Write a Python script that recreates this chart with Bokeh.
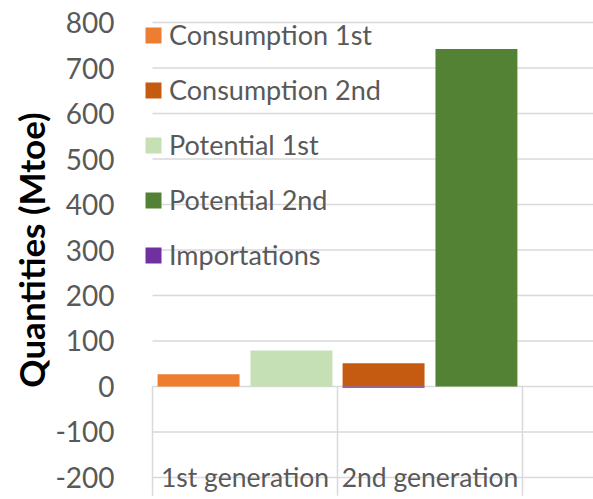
from bokeh.plotting import figure
from bokeh.models import Range1d, FixedTicker, Legend, LegendItem
from bokeh.core.properties import value
from bokeh.embed import file_html
from bokeh.resources import INLINE

categories = ["1st generation", "2nd generation"]
series = ["Consumption 1st", "Consumption 2nd", "Potential 1st", "Potential 2nd", "Importations"]
colors = ["#ED7D31", "#C55A11", "#C5E0B4", "#548235", "#7030A0"]
# values per category (1st generation, 2nd generation)
consumption_1st = [27, 0]
consumption_2nd = [0, 51]
potential_1st = [79, 0]
potential_2nd = [0, 742]
importations = [0, -3]
y_ticks = [-200, -100, 0, 100, 200, 300, 400, 500, 600, 700, 800]

FONT = "Lato"
GRID = "#D9D9D9"
TXT = "#595959"

X0 = -12 / 185
X1 = 441 / 185

p = figure(width=593, height=499, output_backend="svg", toolbar_location=None,
           x_axis_type=None, x_range=Range1d(X0, X1), y_range=Range1d(-248.4, 848.4),
           min_border_left=140, min_border_right=0, min_border_top=0, min_border_bottom=0)
p.outline_line_color = None
p.background_fill_color = "white"
p.ygrid.visible = False

# horizontal gridlines starting at the category axis origin
p.segment(x0=[0] * len(y_ticks), x1=[X1] * len(y_ticks), y0=y_ticks, y1=y_ticks,
          line_color=GRID, line_width=1.5)

p.yaxis.ticker = FixedTicker(ticks=y_ticks)
p.yaxis.major_label_overrides = {t: str(t) for t in y_ticks}
p.yaxis.axis_line_color = None
p.yaxis.major_tick_line_color = None
p.yaxis.minor_tick_line_color = None
p.yaxis.major_label_standoff = 20
p.yaxis.major_label_text_font = FONT
p.yaxis.major_label_text_font_size = "28px"
p.yaxis.major_label_text_color = TXT
p.yaxis.axis_label = "Quantities (Mtoe)"
p.yaxis.axis_label_text_font = FONT
p.yaxis.axis_label_text_font_style = "bold"
p.yaxis.axis_label_text_font_size = "35px"
p.yaxis.axis_label_text_color = "black"
p.yaxis.axis_label_standoff = 0

# category dividers
ncat = len(categories)
p.segment(x0=list(range(ncat + 1)), y0=[0] * (ncat + 1), x1=list(range(ncat + 1)),
          y1=[-240] * (ncat + 1), line_color=GRID, line_width=1.5)

# bars: two slots per category
slot_off = {"left": 0.249, "right": 0.751}
bw = 0.443
layout = [
    ("Consumption 1st", consumption_1st, "left"),
    ("Consumption 2nd", consumption_2nd, "left"),
    ("Potential 1st", potential_1st, "right"),
    ("Potential 2nd", potential_2nd, "right"),
    ("Importations", importations, "left"),
]
renderers = {}
for (name, vals, slot), col in zip(layout, colors):
    lefts, rights, tops = [], [], []
    for i, v in enumerate(vals):
        if v != 0:
            c = i + slot_off[slot]
            lefts.append(c - bw / 2)
            rights.append(c + bw / 2)
            tops.append(v)
    r = p.quad(left=lefts, right=rights, top=tops, bottom=[0] * len(tops),
               fill_color=col, line_color=None)
    renderers[name] = r

# category labels
p.text(x=[i + 0.5 for i in range(ncat)], y=[-200] * ncat, text=categories,
       text_align="center", text_baseline="middle", text_font=value(FONT),
       text_font_size="26.5px", text_color=TXT)

legend = Legend(items=[LegendItem(label=n, renderers=[renderers[n]]) for n in series],
                location=(3, 228), orientation="vertical",
                background_fill_alpha=0, border_line_color=None,
                glyph_width=20, glyph_height=20, label_standoff=6,
                label_text_font=FONT, label_text_font_size="27px", label_text_color=TXT,
                spacing=22, padding=0, margin=0, label_height=33)
p.add_layout(legend, "center")

open("out.html", "w").write(file_html(p, INLINE))
